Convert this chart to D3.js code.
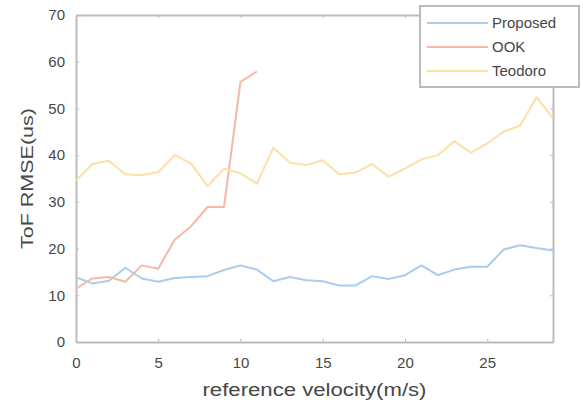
<!DOCTYPE html>
<meta charset="utf-8">
<style>
    body { margin: 0; background: #fff; }
    svg { font-family: "Liberation Sans", Arial, sans-serif; }
    .axis path, .axis line { stroke: #bcbcbc; }
    .axis text { fill: #474747; font-size: 15px; }
    .series { fill: none; stroke-width: 2px; stroke-linejoin: round; }
</style>

<svg width="583" height="406"></svg>
<script src="https://d3js.org/d3.v7.min.js"></script>
<script>

    var series = ["Proposed", "OOK", "Teodoro"];
    var colors = ["#a8cdee", "#f5b9a5", "#fce0a6"];

    var velocity = d3.range(0, 30);
    var proposed = [13.9, 12.5, 13.1, 15.9, 13.6, 12.9, 13.7, 13.9, 14.1, 15.4,
        16.4, 15.5, 13.0, 13.9, 13.2, 13.0, 12.1, 12.1, 14.1, 13.5,
        14.3, 16.4, 14.3, 15.5, 16.1, 16.1, 19.8, 20.7, 20.1, 19.6];
    var ook = [11.4, 13.6, 13.9, 12.9, 16.4, 15.7, 21.9, 24.8, 28.9, 28.9, 55.7, 57.9];
    var teodoro = [34.6, 38.1, 38.8, 35.9, 35.7, 36.4, 40.0, 38.2, 33.4, 37.1,
        36.1, 33.9, 41.6, 38.4, 37.9, 38.9, 35.9, 36.3, 38.1, 35.4,
        37.1, 39.1, 40.0, 43.0, 40.5, 42.5, 45.0, 46.3, 52.4, 47.9];

    var xTicks = [0, 5, 10, 15, 20, 25];
    var yTicks = [0, 10, 20, 30, 40, 50, 60, 70];

    var data = [proposed, ook, teodoro].map(function (vals) {
        return vals.map(function (v, i) { return { x: velocity[i], y: v }; });
    });

    var margin = { left: 76, top: 15, right: 30, bottom: 64 };
    var svg = d3.select("svg");
    var width = 583 - margin.left - margin.right;
    var height = 406 - margin.top - margin.bottom;

    var g = svg.append("g")
        .attr("transform", "translate(" + margin.left + "," + margin.top + ")");

    var xScale = d3.scaleLinear().domain([0, 29]).range([0, width]);
    var yScale = d3.scaleLinear().domain([0, 70]).range([height, 0]);

    // bottom / top
    g.append("g")
        .attr("class", "axis")
        .attr("transform", "translate(0," + height + ")")
        .call(d3.axisBottom(xScale).tickValues(xTicks).tickSize(-3).tickSizeOuter(0).tickPadding(15));
    g.append("g")
        .attr("class", "axis")
        .call(d3.axisTop(xScale).tickValues(xTicks).tickSize(-3).tickSizeOuter(0).tickFormat(""));

    // left / right
    g.append("g")
        .attr("class", "axis")
        .call(d3.axisLeft(yScale).tickValues(yTicks).tickSize(-3).tickSizeOuter(0).tickPadding(11));
    g.append("g")
        .attr("class", "axis")
        .attr("transform", "translate(" + width + ",0)")
        .call(d3.axisRight(yScale).tickValues(yTicks).tickSize(-3).tickSizeOuter(0).tickFormat(""));

    g.selectAll(".axis path").attr("stroke-width", 2);

    var line = d3.line()
        .x(function (d) { return xScale(d.x); })
        .y(function (d) { return yScale(d.y); });

    g.append("g")
        .selectAll("path")
        .data(data)
        .enter().append("path")
        .attr("class", "series")
        .attr("stroke", function (d, i) { return colors[i]; })
        .attr("d", line);

    // axis labels (the source text is rendered a little wide)
    svg.append("text")
        .attr("x", margin.left + width / 2)
        .attr("y", 396)
        .attr("text-anchor", "middle")
        .attr("fill", "#474747")
        .attr("textLength", 224)
        .attr("lengthAdjust", "spacingAndGlyphs")
        .style("font-size", "18px")
        .text("reference velocity(m/s)");

    svg.append("text")
        .attr("transform", "translate(33," + (margin.top + yScale(35)) + ") rotate(-90)")
        .attr("text-anchor", "middle")
        .attr("fill", "#474747")
        .attr("textLength", 141)
        .attr("lengthAdjust", "spacingAndGlyphs")
        .style("font-size", "17px")
        .text("ToF RMSE(us)");

    // legend
    var legend = svg.append("g").attr("transform", "translate(420,6)");
    legend.append("rect")
        .attr("width", 159)
        .attr("height", 81)
        .attr("fill", "#fff")
        .attr("stroke", "#bcbcbc")
        .attr("stroke-width", 2);

    var item = legend.selectAll("g.item")
        .data(series)
        .enter().append("g")
        .attr("class", "item")
        .attr("transform", function (d, i) { return "translate(0," + (17 + i * 24) + ")"; });

    item.append("line")
        .attr("x1", 7).attr("x2", 68)
        .attr("stroke", function (d, i) { return colors[i]; })
        .attr("stroke-width", 2);

    item.append("text")
        .attr("x", 72)
        .attr("dy", "0.35em")
        .attr("fill", "#474747")
        .style("font-size", "15px")
        .text(function (d) { return d; });

</script>
